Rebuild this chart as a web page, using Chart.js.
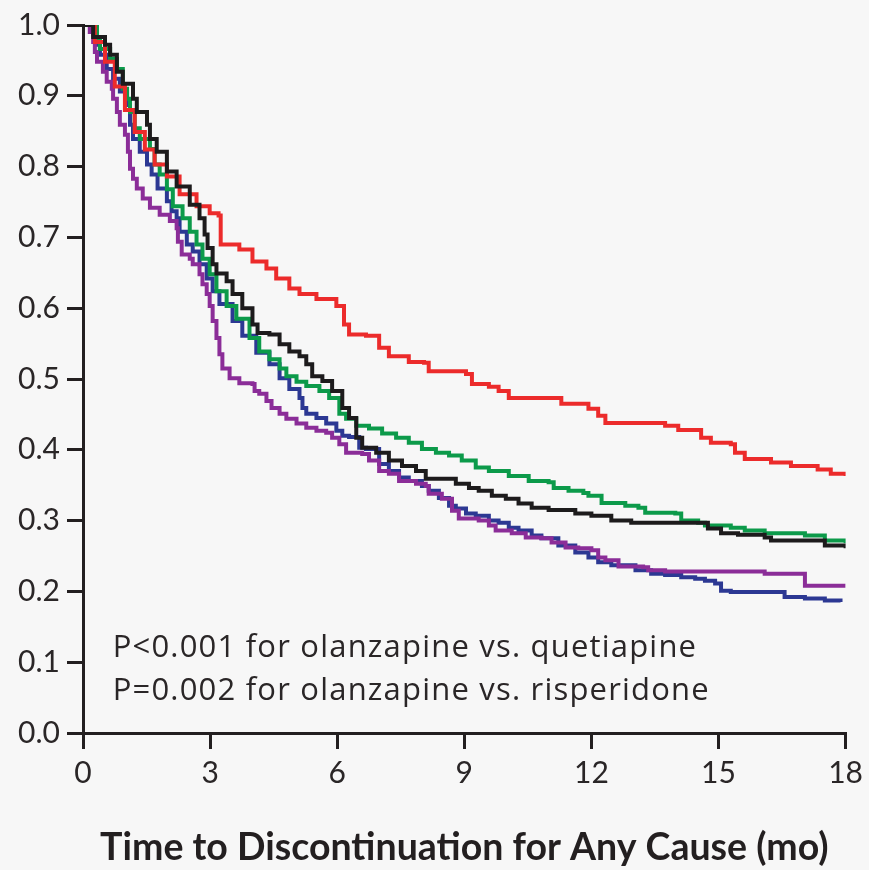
<!DOCTYPE html>
<html>
<head>
<meta charset="utf-8">
<script src="https://cdn.jsdelivr.net/npm/chart.js@4/dist/chart.umd.min.js"></script>
<style>
  html, body { margin: 0; padding: 0; background: #f7f7f7; }
  #wrap { width: 869px; height: 870px; position: relative; }
</style>
</head>
<body>
<div id="wrap"><canvas id="c"></canvas></div>
<script>
// ---- Data (months, survival probability) ----
const xTicks = [0, 3, 6, 9, 12, 15, 18];
const yTicks = [0, 0.1, 0.2, 0.3, 0.4, 0.5, 0.6, 0.7, 0.8, 0.9, 1.0];
const xTitle = 'Time to Discontinuation for Any Cause (mo)';
const annotationLines = [
  'P<0.001 for olanzapine vs. quetiapine',
  'P=0.002 for olanzapine vs. risperidone'
];

const olanzapineT = [0,0.28,0.52,0.75,0.99,1.22,1.46,1.69,1.98,2.28,2.68,2.99,3.2,3.25,3.69,4.0,4.33,4.56,4.87,5.11,5.51,5.98,6.16,6.28,6.68,6.99,7.22,7.69,8.05,8.16,9.04,9.18,9.58,9.81,10.05,10.99,11.29,11.93,12.16,12.33,13.46,13.74,14.05,14.52,14.59,14.82,15.29,15.39,15.62,16.24,16.71,17.34,17.65,18.0];
const olanzapineS = [1.0,0.976,0.948,0.913,0.880,0.849,0.824,0.803,0.786,0.761,0.744,0.734,0.731,0.690,0.683,0.666,0.656,0.642,0.628,0.620,0.613,0.603,0.577,0.563,0.561,0.544,0.532,0.524,0.523,0.511,0.507,0.493,0.489,0.483,0.473,0.473,0.465,0.458,0.448,0.438,0.438,0.434,0.428,0.428,0.417,0.410,0.408,0.396,0.387,0.382,0.377,0.372,0.366,0.363];

const perphenazineT = [0,0.24,0.52,0.64,0.80,0.94,1.18,1.27,1.51,1.58,1.74,1.98,2.21,2.52,2.75,2.87,2.94,3.06,3.15,3.39,3.53,3.76,4.0,4.12,4.40,4.64,4.87,5.11,5.27,5.41,5.65,5.88,6.12,6.28,6.45,6.59,6.92,7.22,7.53,7.86,8.09,8.47,8.80,9.11,9.34,9.65,9.98,10.28,10.59,10.99,11.46,11.62,12.0,12.47,12.94,14.52,14.75,15.06,15.46,16.09,16.24,17.34,17.51,18.0];
const perphenazineS = [1.0,0.983,0.972,0.958,0.934,0.917,0.896,0.877,0.859,0.839,0.821,0.793,0.772,0.746,0.727,0.704,0.685,0.662,0.649,0.638,0.620,0.600,0.577,0.565,0.563,0.549,0.539,0.532,0.521,0.504,0.497,0.483,0.459,0.445,0.417,0.403,0.396,0.385,0.377,0.370,0.359,0.359,0.352,0.346,0.342,0.335,0.331,0.324,0.318,0.315,0.315,0.310,0.307,0.300,0.297,0.297,0.289,0.282,0.280,0.276,0.272,0.272,0.265,0.261];

const risperidoneT = [0,0.33,0.40,0.64,0.80,0.94,1.04,1.11,1.22,1.34,1.58,1.69,1.81,1.98,2.12,2.35,2.52,2.68,2.82,2.99,3.15,3.39,3.62,3.93,4.16,4.40,4.64,4.80,5.04,5.27,5.58,5.81,6.05,6.21,6.45,6.75,7.06,7.39,7.69,8.0,8.33,8.64,8.94,9.27,9.58,10.05,10.52,10.99,11.11,11.46,11.81,11.93,12.24,12.47,12.80,13.11,13.27,13.98,14.12,14.52,14.68,15.29,15.62,16.09,17.04,17.51,18.0];
const risperidoneS = [1.0,0.980,0.966,0.952,0.938,0.910,0.896,0.877,0.854,0.839,0.825,0.803,0.789,0.768,0.744,0.727,0.708,0.690,0.670,0.648,0.624,0.603,0.585,0.558,0.539,0.528,0.515,0.504,0.496,0.490,0.483,0.473,0.451,0.444,0.434,0.430,0.423,0.417,0.410,0.401,0.396,0.392,0.385,0.375,0.370,0.363,0.356,0.354,0.346,0.342,0.339,0.335,0.325,0.325,0.321,0.318,0.311,0.310,0.300,0.297,0.293,0.290,0.286,0.282,0.279,0.272,0.268];

const ziprasidoneT = [0,0.24,0.33,0.40,0.56,0.71,0.87,1.04,1.11,1.18,1.34,1.51,1.62,1.76,1.98,2.09,2.21,2.28,2.45,2.59,2.75,2.92,3.06,3.22,3.53,3.76,4.09,4.40,4.64,4.87,5.11,5.18,5.27,5.51,5.74,5.98,6.12,6.28,6.52,6.68,6.99,7.22,7.46,7.69,8.0,8.16,8.40,8.64,8.80,9.04,9.27,9.58,9.81,10.05,10.28,10.59,10.82,11.22,11.62,11.93,12.16,12.47,13.04,13.41,13.74,14.12,14.45,14.68,14.92,15.06,15.29,16.40,16.56,17.04,17.51,17.88];
const ziprasidoneS = [1.0,0.986,0.972,0.958,0.938,0.924,0.906,0.887,0.859,0.839,0.821,0.803,0.789,0.769,0.751,0.737,0.727,0.708,0.690,0.680,0.662,0.642,0.624,0.606,0.582,0.561,0.537,0.521,0.501,0.486,0.473,0.459,0.451,0.445,0.437,0.427,0.420,0.418,0.403,0.401,0.380,0.370,0.361,0.356,0.349,0.342,0.332,0.321,0.317,0.310,0.307,0.300,0.297,0.290,0.286,0.279,0.275,0.265,0.255,0.248,0.241,0.237,0.230,0.225,0.223,0.220,0.218,0.215,0.211,0.201,0.199,0.199,0.192,0.190,0.187,0.185];

const quetiapineT = [0,0.16,0.24,0.28,0.33,0.47,0.56,0.68,0.71,0.80,0.87,0.99,1.06,1.11,1.18,1.27,1.41,1.58,1.81,2.05,2.21,2.24,2.33,2.52,2.59,2.75,2.82,2.92,2.99,3.06,3.15,3.22,3.29,3.46,3.69,4.0,4.05,4.16,4.33,4.45,4.64,4.80,5.04,5.27,5.51,5.74,5.88,6.05,6.21,6.59,6.75,6.99,7.22,7.46,7.86,8.09,8.16,8.47,8.71,8.87,9.34,9.58,9.74,10.12,10.45,10.82,11.06,11.39,11.69,12.0,12.16,12.33,12.64,13.22,13.34,13.74,16.0,16.09,16.94,17.04,18.0];
const quetiapineS = [1.0,0.990,0.976,0.962,0.948,0.934,0.920,0.910,0.896,0.877,0.859,0.845,0.821,0.797,0.783,0.769,0.755,0.742,0.732,0.723,0.713,0.694,0.676,0.670,0.662,0.648,0.634,0.620,0.603,0.582,0.558,0.535,0.515,0.501,0.494,0.493,0.483,0.479,0.469,0.459,0.451,0.444,0.437,0.431,0.427,0.424,0.417,0.408,0.396,0.394,0.385,0.370,0.366,0.356,0.352,0.349,0.338,0.331,0.314,0.303,0.300,0.293,0.286,0.282,0.276,0.275,0.269,0.262,0.261,0.258,0.248,0.244,0.235,0.234,0.230,0.228,0.228,0.225,0.225,0.208,0.208];

const seriesColors = {
  perphenazine: '#1d1b1c',
  olanzapine: '#ec2b2b',
  risperidone: '#0c9a4a',
  quetiapine: '#8b2d98',
  ziprasidone: '#2c3893'
};

function pts(t, s) { return t.map((v, i) => ({ x: v, y: s[i] })); }
function ds(label, t, s) {
  return {
    label, data: pts(t, s), borderColor: seriesColors[label], backgroundColor: seriesColors[label],
    borderWidth: 4, pointRadius: 0, stepped: true, fill: false,
    borderCapStyle: 'butt', borderJoinStyle: 'miter'
  };
}

const textColor = '#2a2627';
const axisColor = '#231f20';
const FONT = 'Lato, "Open Sans", "DejaVu Sans", sans-serif';
const ANNOT_FONT = '"Open Sans", Lato, "DejaVu Sans", sans-serif';

const bgPlugin = {
  id: 'bg',
  beforeDraw(chart) {
    const ctx = chart.ctx;
    ctx.save();
    ctx.fillStyle = '#f7f7f7';
    ctx.fillRect(0, 0, chart.width, chart.height);
    ctx.restore();
  }
};

const annotPlugin = {
  id: 'annot',
  afterDatasetsDraw(chart) {
    const ctx = chart.ctx;
    const xs = chart.scales.x, ys = chart.scales.y;
    ctx.save();
    ctx.fillStyle = textColor;
    ctx.font = '31px ' + ANNOT_FONT;
    if ('letterSpacing' in ctx) ctx.letterSpacing = '1.2px';
    ctx.textBaseline = 'alphabetic';
    ctx.textAlign = 'left';
    const x0 = xs.getPixelForValue(0.7);
    ctx.fillText(annotationLines[0], x0, ys.getPixelForValue(0.107));
    ctx.fillText(annotationLines[1], x0, ys.getPixelForValue(0.047));
    ctx.restore();
  }
};

new Chart(document.getElementById('c'), {
  type: 'line',
  data: {
    datasets: [
      ds('perphenazine', perphenazineT, perphenazineS),
      ds('olanzapine', olanzapineT, olanzapineS),
      ds('risperidone', risperidoneT, risperidoneS),
      ds('quetiapine', quetiapineT, quetiapineS),
      ds('ziprasidone', ziprasidoneT, ziprasidoneS)
    ]
  },
  options: {
    responsive: true,
    maintainAspectRatio: false,
    animation: false,
    layout: { padding: { top: 23, right: 21, left: 0, bottom: 0 } },
    plugins: { legend: { display: false }, tooltip: { enabled: false } },
    scales: {
      x: {
        type: 'linear', min: 0, max: 18,
        afterBuildTicks(scale) { scale.ticks = xTicks.map(v => ({ value: v })); },
        afterFit(scale) { scale.height = 137; },
        border: { display: true, color: axisColor, width: 3 },
        grid: { drawOnChartArea: false, drawTicks: true, tickLength: 16, color: axisColor, lineWidth: 3 },
        ticks: { color: textColor, font: { family: FONT, size: 30 }, padding: 6, maxRotation: 0,
                 callback: v => String(v) },
        title: { display: true, text: xTitle, color: '#231f20',
                 font: { family: FONT, size: 37.5, weight: 'bold' }, padding: { top: 0, bottom: 0 } }
      },
      y: {
        type: 'linear', min: 0, max: 1,
        afterBuildTicks(scale) { scale.ticks = yTicks.map(v => ({ value: v })); },
        afterFit(scale) { scale.width = 83; },
        border: { display: true, color: axisColor, width: 3 },
        grid: { drawOnChartArea: false, drawTicks: true, tickLength: 16, color: axisColor, lineWidth: 3 },
        ticks: { color: textColor, font: { family: FONT, size: 30 }, padding: 7,
                 callback: v => Number(v).toFixed(1) }
      }
    }
  },
  plugins: [bgPlugin, annotPlugin]
});
</script>
</body>
</html>
